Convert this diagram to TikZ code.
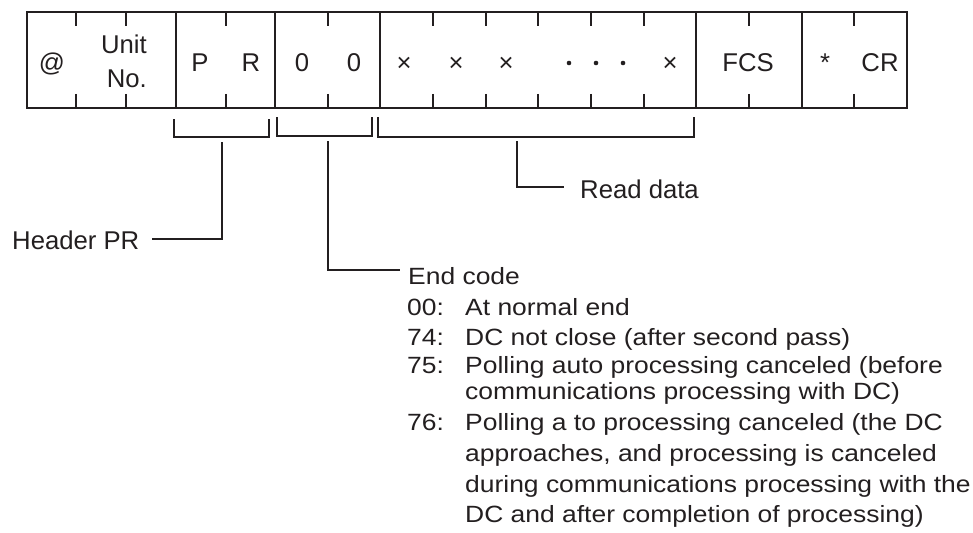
\documentclass[tikz,border=0pt]{standalone}
\usepackage{fontspec}
\setmainfont{Liberation Sans}
\newfontfamily\listfont[FakeStretch=1.125]{Liberation Sans}
\definecolor{ink}{RGB}{35,31,32}
\begin{document}
\begin{tikzpicture}[x=1pt,y=-1pt,
  frameline/.style={line width=2.5pt, draw=ink},
  tickline/.style={line width=2.2pt, draw=ink},
  brk/.style={line width=1.7pt, draw=ink},
  conn/.style={line width=1.7pt, draw=ink},
  ftxt/.style={font=\fontsize{25.7}{26}\selectfont, inner sep=0pt, anchor=base, text=ink},
  lbl/.style={font=\fontsize{25.7}{30}\selectfont, inner sep=0pt, anchor=base west, text=ink},
  lst/.style={font=\listfont\fontsize{23.5}{28}\selectfont, inner sep=0pt, anchor=base west, text=ink},
  dotmark/.style={circle, fill=ink, inner sep=0pt, minimum size=4.6pt}]
\useasboundingbox (0,0) rectangle (973,532);

% frame
\draw[frameline] (27,12) rectangle (907,108);
\foreach \x in {176,275,380,696,802} \draw[frameline] (\x,12) -- (\x,108);
\foreach \x in {76,126,226,328,433,486,538,591,644,749,854}
  \draw[tickline] (\x,12) -- (\x,26) (\x,94) -- (\x,108);

% frame texts
\node[ftxt] (fat) at (52,71.5) {@};
\node[ftxt, anchor=base east] (funit) at (147,54) {Unit};
\node[ftxt, anchor=base east] (fno) at (147,88) {No.};
\node[ftxt] (fp) at (200,71.5) {P};
\node[ftxt] (fr) at (251,71.5) {R};
\node[ftxt] (fz1) at (302,71.5) {0};
\node[ftxt] (fz2) at (354,71.5) {0};
\node[ftxt] (fx1) at (404,71.5) {×};
\node[ftxt] (fx2) at (456,71.5) {×};
\node[ftxt] (fx3) at (506,71.5) {×};
\node[dotmark] (fd1) at (569,63) {};
\node[dotmark] (fd2) at (596,63) {};
\node[dotmark] (fd3) at (623,63) {};
\node[ftxt] (fx4) at (670,71.5) {×};
\node[ftxt] (ffcs) at (748,71.5) {FCS};
\node[ftxt] (fast) at (825,71.5) {*};
\node[ftxt] (fcr) at (880,71.5) {CR};

% brackets
\draw[brk] (174,119) |- (269,137) -- (269,119);
\draw[brk] (277,117) |- (372,136) -- (372,117);
\draw[brk] (378,117) |- (694,137) -- (694,117);

% stems
\coordinate (sPR) at (222,142);
\coordinate (sEC) at (328,141);
\coordinate (sRD) at (517,141);
\coordinate (ePR) at (152,239);
\coordinate (eEC) at (400,270);
\coordinate (eRD) at (564,187);
\draw[conn] (sPR) |- (ePR);
\draw[conn] (sEC) |- (eEC);
\draw[conn] (sRD) |- (eRD);

% labels
\node[lbl] (hdr) at (12,249) {Header PR};
\node[lbl] (rdata) at (580,198) {Read data};
\node[lst] (ecode) at (408,284) {End code};

\node[lst] (c00) at (407,315) {00:};
\node[lst] (t00) at (465,315) {At normal end};
\node[lst] (c74) at (407,345) {74:};
\node[lst] (t74) at (465,345) {DC not close (after second pass)};
\node[lst] (c75) at (407,373) {75:};
\node[lst] (t75a) at (465,373) {Polling auto processing canceled (before};
\node[lst] (t75b) at (465,399) {communications processing with DC)};
\node[lst] (c76) at (407,430) {76:};
\node[lst] (t76a) at (465,430) {Polling a to processing canceled (the DC};
\node[lst] (t76b) at (465,461) {approaches, and processing is canceled};
\node[lst] (t76c) at (465,492) {during communications processing with the};
\node[lst] (t76d) at (465,522) {DC and after completion of processing)};
\end{tikzpicture}
\end{document}
